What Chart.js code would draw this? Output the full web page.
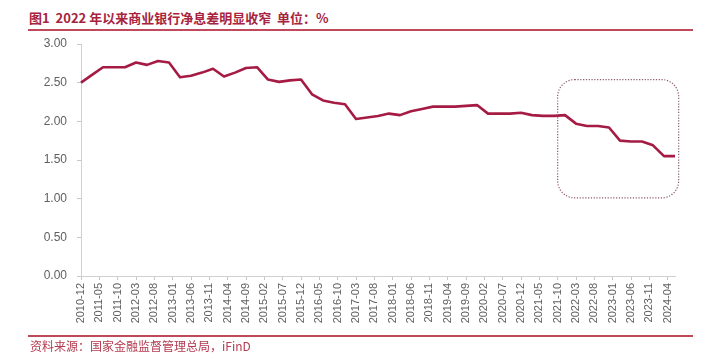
<!DOCTYPE html>
<html>
<head>
<meta charset="utf-8">
<script src="https://cdn.jsdelivr.net/npm/chart.js@4/dist/chart.umd.min.js"></script>
<style>
  html, body { margin: 0; padding: 0; background: #fff; }
  #wrap { position: relative; width: 720px; height: 364px; overflow: hidden; }
  #title { position: absolute; left: 29px; top: 8px; font: bold 13px "Noto Sans CJK SC", sans-serif; color: #a8233d; white-space: nowrap; }
  .rule { position: absolute; left: 28px; width: 665px; height: 2px; background: #c04a5c; }
  #source { position: absolute; left: 30px; top: 337px; font: 12px "Noto Sans CJK SC", sans-serif; color: #b33a50; white-space: nowrap; }
  canvas { position: absolute; left: 0; top: 0; }
</style>
</head>
<body>
<div id="wrap">
  <div id="title">图1&nbsp; 2022 年以来商业银行净息差明显收窄&nbsp; 单位：%</div>
  <div class="rule" style="top:29px"></div>
  <canvas id="c" width="720" height="364"></canvas>
  <div class="rule" style="top:335px"></div>
  <div id="source">资料来源：国家金融监督管理总局，iFinD</div>
</div>
<script>
// 商业银行净息差（季度，%）
var quarters = [
  "2010-12",
  "2011-03","2011-06","2011-09","2011-12",
  "2012-03","2012-06","2012-09","2012-12",
  "2013-03","2013-06","2013-09","2013-12",
  "2014-03","2014-06","2014-09","2014-12",
  "2015-03","2015-06","2015-09","2015-12",
  "2016-03","2016-06","2016-09","2016-12",
  "2017-03","2017-06","2017-09","2017-12",
  "2018-03","2018-06","2018-09","2018-12",
  "2019-03","2019-06","2019-09","2019-12",
  "2020-03","2020-06","2020-09","2020-12",
  "2021-03","2021-06","2021-09","2021-12",
  "2022-03","2022-06","2022-09","2022-12",
  "2023-03","2023-06","2023-09","2023-12",
  "2024-03","2024-06"
];
var nim = [
  2.50,
  2.60, 2.70, 2.70, 2.70,
  2.76, 2.73, 2.78, 2.76,
  2.57, 2.59, 2.63, 2.68,
  2.58, 2.63, 2.69, 2.70,
  2.54, 2.51, 2.53, 2.54,
  2.35, 2.27, 2.24, 2.22,
  2.03, 2.05, 2.07, 2.10,
  2.08, 2.13, 2.16, 2.19,
  2.19, 2.19, 2.20, 2.21,
  2.10, 2.10, 2.10, 2.11,
  2.08, 2.07, 2.07, 2.08,
  1.97, 1.94, 1.94, 1.92,
  1.75, 1.74, 1.74, 1.69,
  1.55, 1.55
];
var yTicks = [0, 0.5, 1, 1.5, 2, 2.5, 3];
var labelEvery = 5;          // 横轴每5个月一个标签
var boxFrom = "2021-10";     // 虚线框起点（月份）
var boxTop = 2.54, boxBottom = 1.01;

// 月度横轴：2010-12 ~ 2024-06，季度值放在对应月份，其余为空
var months = [];
var y0 = +quarters[0].slice(0, 4), m0 = +quarters[0].slice(5);
var last = quarters[quarters.length - 1];
while (true) {
  var s = y0 + "-" + (m0 < 10 ? "0" + m0 : m0);
  months.push(s);
  if (s === last) break;
  m0++;
  if (m0 > 12) { m0 = 1; y0++; }
}
var series = months.map(function (m) {
  var i = quarters.indexOf(m);
  return i >= 0 ? nim[i] : null;
});

var boxPlugin = {
  id: "dottedBox",
  afterDatasetsDraw: function (chart) {
    var x = chart.scales.x, y = chart.scales.y, ctx = chart.ctx;
    var l = x.getPixelForValue(months.indexOf(boxFrom));
    var r = x.getPixelForValue(months.length);
    var t = y.getPixelForValue(boxTop), b = y.getPixelForValue(boxBottom);
    var rad = 17;
    ctx.save();
    ctx.strokeStyle = "#8a5a66";
    ctx.lineWidth = 1.2;
    ctx.setLineDash([1.2, 1.6]);
    ctx.beginPath();
    ctx.moveTo(l + rad, t);
    ctx.arcTo(r, t, r, b, rad);
    ctx.arcTo(r, b, l, b, rad);
    ctx.arcTo(l, b, l, t, rad);
    ctx.arcTo(l, t, r, t, rad);
    ctx.closePath();
    ctx.stroke();
    ctx.restore();
  }
};

new Chart(document.getElementById("c"), {
  type: "line",
  data: {
    labels: months,
    datasets: [{
      data: series,
      borderColor: "#a51b43",
      borderWidth: 2.6,
      pointRadius: 0,
      tension: 0,
      spanGaps: true,
      borderJoinStyle: "round"
    }]
  },
  options: {
    responsive: false,
    animation: false,
    devicePixelRatio: 1,
    layout: { padding: { left: 0, right: 45, top: 44, bottom: 0 } },
    plugins: { legend: { display: false }, tooltip: { enabled: false } },
    scales: {
      x: {
        offset: false,
        border: { color: "#d0d0d0", width: 1 },
        grid: {
          drawOnChartArea: false,
          tickLength: 4,
          tickColor: function (c) { return c.index % labelEvery === 0 ? "#c8c8c8" : "rgba(0,0,0,0)"; }
        },
        ticks: {
          autoSkip: false,
          maxRotation: 90,
          minRotation: 90,
          padding: 3,
          color: "#5f5f5f",
          font: { family: "Liberation Sans", size: 11 },
          callback: function (v, i) { return i % labelEvery === 0 ? this.getLabelForValue(v) : ""; }
        },
        afterFit: function (s) { s.height = 88; }
      },
      y: {
        min: 0, max: 3,
        border: { color: "#d0d0d0", width: 1 },
        grid: { drawOnChartArea: false, tickLength: 4, color: "#c8c8c8" },
        afterBuildTicks: function (s) { s.ticks = yTicks.map(function (v) { return { value: v }; }); },
        ticks: {
          padding: 10,
          color: "#5f5f5f",
          font: { family: "Liberation Sans", size: 12 },
          callback: function (v) { return v.toFixed(2); }
        },
        afterFit: function (s) { s.width = 81; }
      }
    }
  },
  plugins: [boxPlugin]
});
</script>
</body>
</html>
